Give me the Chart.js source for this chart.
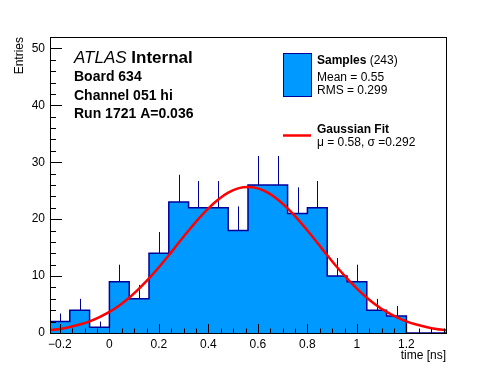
<!DOCTYPE html>
<html>
<head>
<meta charset="utf-8">
<script src="https://cdn.jsdelivr.net/npm/chart.js@4.4.0/dist/chart.umd.min.js"></script>
<style>
    html, body { margin: 0; padding: 0; background: #fff; }
    #wrap { width: 496px; height: 372px; }
</style>
</head>
<body>
<div id="wrap"><canvas id="timeHist" width="496" height="372"></canvas></div>
<script>
// histogram: 20 bins of 0.08 ns
const binEdges = [-0.24, -0.16, -0.08, 0, 0.08, 0.16, 0.24, 0.32, 0.40, 0.48, 0.56,
                  0.64, 0.72, 0.80, 0.88, 0.96, 1.04, 1.12, 1.20, 1.28, 1.36];
const counts = [2, 4, 1, 9, 6, 14, 23, 22, 22, 18, 26, 26, 21, 22, 10, 9, 4, 3, 0, 0];

// gaussian fit curve
const fitX = [-0.24, -0.20, -0.16, -0.12, -0.08, -0.04, 0, 0.04, 0.08, 0.12, 0.16, 0.20, 0.24, 0.28,
              0.32, 0.36, 0.40, 0.44, 0.48, 0.52, 0.56, 0.60, 0.64, 0.68, 0.72, 0.76, 0.80, 0.84,
              0.88, 0.92, 0.96, 1.00, 1.04, 1.08, 1.12, 1.16, 1.20, 1.24, 1.28, 1.32, 1.36];
const fitY = [0.5, 0.7, 1.05, 1.5, 2.05, 2.8, 3.7, 4.85, 6.2, 7.8, 9.6, 11.55, 13.65, 15.85,
              18.0, 20.05, 21.9, 23.45, 24.65, 25.4, 25.65, 25.4, 24.65, 23.45, 21.9, 20.05, 18.0, 15.85,
              13.65, 11.55, 9.6, 7.8, 6.2, 4.85, 3.7, 2.8, 2.05, 1.5, 1.05, 0.7, 0.5];

const xTickLabels = [-0.2, 0, 0.2, 0.4, 0.6, 0.8, 1, 1.2];
const yTickLabels = [0, 10, 20, 30, 40, 50];

const FONT = '"Liberation Sans", Arial, Helvetica, sans-serif';
const HIST_FILL = '#0099ff';
const HIST_LINE = '#000099';

// outline points at each bin's right edge; 'after' stepping rises at the left edge
const histPoints = [{ x: binEdges[0], y: 0 }, { x: binEdges[0], y: counts[0] }];
counts.forEach((c, i) => histPoints.push({ x: binEdges[i + 1], y: c }));
histPoints.push({ x: binEdges[binEdges.length - 1], y: 0 });

const fitPoints = fitX.map((x, i) => ({ x: x, y: fitY[i] }));

const errorBars = {
    id: 'errorBars',
    afterDatasetDraw(chart, args) {
        if (args.index !== 1) return;
        const { ctx, scales: { x, y } } = chart;
        ctx.save();
        ctx.strokeStyle = HIST_LINE;
        ctx.lineWidth = 1;
        counts.forEach((c, i) => {
            if (c <= 0) return;
            const px = Math.round(x.getPixelForValue((binEdges[i] + binEdges[i + 1]) / 2)) + 0.5;
            ctx.beginPath();
            ctx.moveTo(px, y.getPixelForValue(c));
            ctx.lineTo(px, y.getPixelForValue(c + Math.sqrt(c)));
            ctx.stroke();
        });
        ctx.restore();
    },
};

const frameAndTicks = {
    id: 'frameAndTicks',
    afterDraw(chart) {
        const { ctx, chartArea: a, scales: { x, y } } = chart;
        ctx.save();
        ctx.strokeStyle = '#000';
        ctx.lineWidth = 1;
        ctx.strokeRect(Math.round(a.left) + 0.5, Math.round(a.top) + 0.5,
            Math.round(a.right - a.left), Math.round(a.bottom - a.top));

        ctx.beginPath();
        // x ticks every 0.05, major every 0.2
        for (let k = -8; k <= 30; k++) {
            const v = k * 0.05;
            if (v < x.min - 1e-9 || v > x.max + 1e-9) continue;
            const px = Math.round(x.getPixelForValue(v)) + 0.5;
            const len = k % 4 === 0 ? 9 : 4.5;
            ctx.moveTo(px, a.bottom);
            ctx.lineTo(px, a.bottom - len);
        }
        // y ticks every 2, major every 10
        for (let k = 0; k <= 26; k++) {
            const v = k * 2;
            if (v > y.max + 1e-9) continue;
            const py = Math.round(y.getPixelForValue(v)) + 0.5;
            const len = k % 5 === 0 ? 12 : 6;
            ctx.moveTo(a.left, py);
            ctx.lineTo(a.left + len, py);
        }
        ctx.stroke();

        // labels
        ctx.fillStyle = '#000';
        ctx.textBaseline = 'alphabetic';
        ctx.textAlign = 'left';
        ctx.font = 'italic 17px ' + FONT;
        ctx.fillText('ATLAS', 74, 63);
        const w = ctx.measureText('ATLAS ').width;
        ctx.font = 'bold 17px ' + FONT;
        ctx.fillText('Internal', 74 + w, 63);
        ctx.font = 'bold 14px ' + FONT;
        ctx.fillText('Board 634', 74, 81);
        ctx.fillText('Channel 051 hi', 74, 100);
        ctx.fillText('Run 1721 A=0.036', 74, 118);

        // legend
        ctx.fillStyle = HIST_FILL;
        ctx.fillRect(283.5, 53.5, 28, 43);
        ctx.strokeStyle = HIST_LINE;
        ctx.strokeRect(283.5, 53.5, 28, 43);
        ctx.strokeStyle = '#ff0000';
        ctx.lineWidth = 2.5;
        ctx.beginPath();
        ctx.moveTo(283, 135.5);
        ctx.lineTo(311, 135.5);
        ctx.stroke();

        ctx.fillStyle = '#000';
        ctx.font = 'bold 12px ' + FONT;
        ctx.fillText('Samples', 317, 64);
        const sw = ctx.measureText('Samples').width;
        ctx.font = '12px ' + FONT;
        ctx.fillText(' (243)', 317 + sw, 64);
        ctx.fillText('Mean = 0.55', 317, 81);
        ctx.fillText('RMS = 0.299', 317, 94);
        ctx.font = 'bold 12px ' + FONT;
        ctx.fillText('Gaussian Fit', 317, 133);
        ctx.font = '12px ' + FONT;
        ctx.fillText('\u03bc = 0.58, \u03c3 =0.292', 317, 146);
        ctx.restore();
    },
};

const ctx = document.getElementById('timeHist').getContext('2d');
new Chart(ctx, {
    type: 'line',
    data: {
        datasets: [
            {
                label: 'Gaussian Fit',
                data: fitPoints,
                borderColor: '#ff0000',
                borderWidth: 2.5,
                pointRadius: 0,
                cubicInterpolationMode: 'monotone',
                fill: false,
            },
            {
                label: 'Samples',
                data: histPoints,
                borderColor: HIST_LINE,
                backgroundColor: HIST_FILL,
                borderWidth: 1.5,
                pointRadius: 0,
                stepped: 'after',
                fill: 'origin',
            },
        ],
    },
    options: {
        responsive: false,
        animation: false,
        devicePixelRatio: 1,
        layout: { padding: { top: 37, right: 50, left: 0, bottom: 0 } },
        plugins: { legend: { display: false }, tooltip: { enabled: false } },
        scales: {
            x: {
                type: 'linear',
                min: binEdges[0],
                max: binEdges[binEdges.length - 1],
                afterBuildTicks: (scale) => { scale.ticks = xTickLabels.map(v => ({ value: v })); },
                afterFit: (scale) => { scale.height = 39; },
                grid: { display: false, drawTicks: false },
                border: { display: false },
                ticks: {
                    padding: 4,
                    maxRotation: 0,
                    color: '#000',
                    font: { family: FONT, size: 12 },
                    callback: (v) => (v < 0 ? '\u2212' : '') + String(Math.round(Math.abs(v) * 10) / 10),
                },
                title: {
                    display: true,
                    text: 'time [ns]',
                    align: 'end',
                    color: '#000',
                    font: { family: FONT, size: 12 },
                    padding: { top: 0, bottom: 9 },
                },
            },
            y: {
                min: 0,
                max: 52,
                afterBuildTicks: (scale) => { scale.ticks = yTickLabels.map(v => ({ value: v })); },
                afterFit: (scale) => { scale.width = 50; },
                grid: { display: false, drawTicks: false },
                border: { display: false },
                ticks: {
                    padding: 5,
                    color: '#000',
                    font: { family: FONT, size: 12 },
                },
                title: {
                    display: true,
                    text: 'Entries',
                    align: 'end',
                    color: '#000',
                    font: { family: FONT, size: 12 },
                    padding: { top: 12, bottom: 0 },
                },
            },
        },
    },
    plugins: [errorBars, frameAndTicks],
});
</script>
</body>
</html>
